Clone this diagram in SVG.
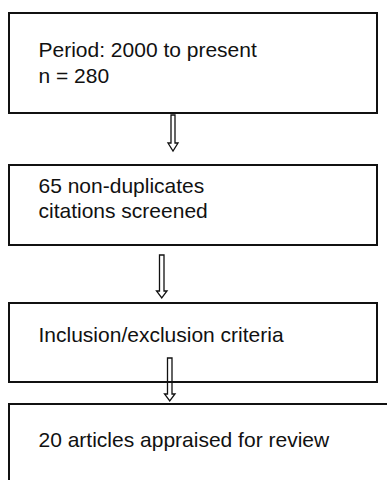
<svg xmlns="http://www.w3.org/2000/svg" width="387" height="480" viewBox="0 0 387 480">
<style>
.box{fill:#fff;stroke:#111;stroke-width:2}
.t{font-family:"Liberation Sans",Arial,sans-serif;font-size:21px;fill:#111}
.arr{fill:none;stroke:#111;stroke-width:1.3;stroke-linejoin:miter}
</style>
<rect width="387" height="480" fill="#fff"/>
<g id="n1"><rect class="box" x="9" y="13" width="368" height="100"/>
<text class="t" x="38.5" y="57">Period: 2000 to present</text>
<text class="t" x="38.5" y="83">n = 280</text></g>
<g id="n2"><rect class="box" x="9" y="165" width="368" height="80"/>
<text class="t" x="38.5" y="193">65 non-duplicates</text>
<text class="t" x="38.5" y="218">citations screened</text></g>
<g id="n3"><rect class="box" x="9" y="303" width="368" height="79"/>
<text class="t" x="38.5" y="342">Inclusion/exclusion criteria</text></g>
<g id="n4"><path class="box" d="M9,482 V404 H390"/>
<text class="t" x="38.5" y="447">20 articles appraised for review</text></g>
<g id="connectors">
<path class="arr" d="M171,115 H175 V143 H178 L173,151 L168,143 H171 Z"/>
<path class="arr" d="M159.5,255 H164 V291 H167 L161.75,298 L156.5,291 H159.5 Z"/>
<path class="arr" d="M167.5,358 H172 V394 H175 L169.75,401 L164.5,394 H167.5 Z"/>
</g>
</svg>
